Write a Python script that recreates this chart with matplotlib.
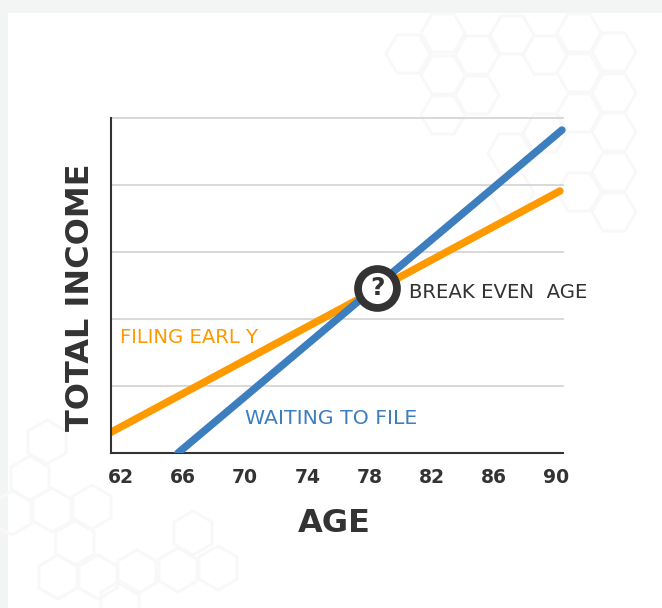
import matplotlib
matplotlib.use("Agg")
import matplotlib.pyplot as plt
from matplotlib.patches import RegularPolygon, Rectangle
import numpy as np

ages_early = [61.36, 90.25]
income_early = [0.31, 3.91]
ages_wait = [65.67, 90.38]
income_wait = [0.0, 4.82]
break_even = (78.5, 2.47)
age_ticks = [62, 66, 70, 74, 78, 82, 86, 90]
income_ticks = [0, 1, 2, 3, 4, 5]

# background honeycomb, figure pixels
hex_top_right = [(408, 54), (443, 33), (477, 55), (443, 75), (477, 95), (443, 115),
                 (512, 35), (545, 55), (579, 33), (579, 73), (614, 52), (614, 93),
                 (579, 113), (614, 132), (614, 172), (579, 192), (614, 212),
                 (545, 133), (510, 153), (512, 193)]
hex_bottom_left = [(47, 442), (30, 478), (12, 513), (52, 510), (92, 507), (75, 543),
                   (58, 577), (98, 577), (137, 572), (178, 570), (193, 533), (218, 568),
                   (120, 603)]

ORANGE = "#ff9900"
BLUE = "#3d7ebf"
DARK = "#333333"
GRID = "#d2d2d2"
HEX = "#f8f8f8"

fig = plt.figure(figsize=(6.62, 6.08), dpi=100, facecolor="#f3f5f4")

bg = fig.add_axes([0, 0, 1, 1])
bg.set_xlim(0, 662)
bg.set_ylim(608, 0)
bg.axis("off")
bg.add_patch(Rectangle((8, 13), 654, 595, facecolor="white", edgecolor="none"))
for c in hex_top_right:
    bg.add_patch(RegularPolygon(c, 6, radius=22, orientation=np.pi / 6, fill=False, edgecolor=HEX, lw=2))
for c in hex_bottom_left:
    bg.add_patch(RegularPolygon(c, 6, radius=22, orientation=0, fill=False, edgecolor=HEX, lw=2))

ax = fig.add_axes([111 / 662, 155 / 608, 452 / 662, 335 / 608])
ax.patch.set_alpha(0)
ax.set_xlim(61.36, 90.45)
ax.set_ylim(0, 5)
ax.set_xticks(age_ticks)
ax.set_yticks(income_ticks)
ax.set_yticklabels([])
ax.tick_params(length=0)
ax.tick_params(axis="x", pad=11, labelsize=13.5, labelcolor=DARK)
for lab in ax.get_xticklabels():
    lab.set_fontweight("bold")
ax.grid(axis="y", color=GRID, lw=1.2, clip_on=False)
ax.set_axisbelow(True)
for side in ["top", "right"]:
    ax.spines[side].set_visible(False)
for side in ["left", "bottom"]:
    ax.spines[side].set_color(DARK)
    ax.spines[side].set_linewidth(1.5)

# lines are cut at the axes on the left/bottom, but round ends may poke out on the right
clip = Rectangle((0, 0), 1.03, 1.1, transform=ax.transAxes)
line_early, = ax.plot(ages_early, income_early, color=ORANGE, lw=5.4, solid_capstyle="round")
line_wait, = ax.plot(ages_wait, income_wait, color=BLUE, lw=5.4, solid_capstyle="round", zorder=3)
line_early.set_clip_path(clip)
line_wait.set_clip_path(clip)

ax.plot(*break_even, marker="o", ms=28, mfc="white", mec=DARK, mew=5.6, zorder=5)
ax.text(*break_even, "?", ha="center", va="center", fontsize=18, fontweight="bold", color=DARK, zorder=6)

ax.text(80.53, 2.39, "BREAK EVEN  AGE", fontsize=14.2, color=DARK, va="center")
ax.text(61.95, 1.73, "FILING EARL Y", fontsize=14.1, color=ORANGE, va="center")
ax.text(70.0, 0.51, "WAITING TO FILE", fontsize=14.7, color=BLUE, va="center")

fig.text(334 / 662, 1 - 523 / 608, "AGE", ha="center", va="center", fontsize=23, fontweight="bold", color=DARK)
fig.text(81 / 662, 1 - 297 / 608, "TOTAL INCOME", rotation=90, ha="center", va="center",
         fontsize=23, fontweight="bold", color=DARK)

fig.savefig("out.png", dpi=100, facecolor=fig.get_facecolor())
